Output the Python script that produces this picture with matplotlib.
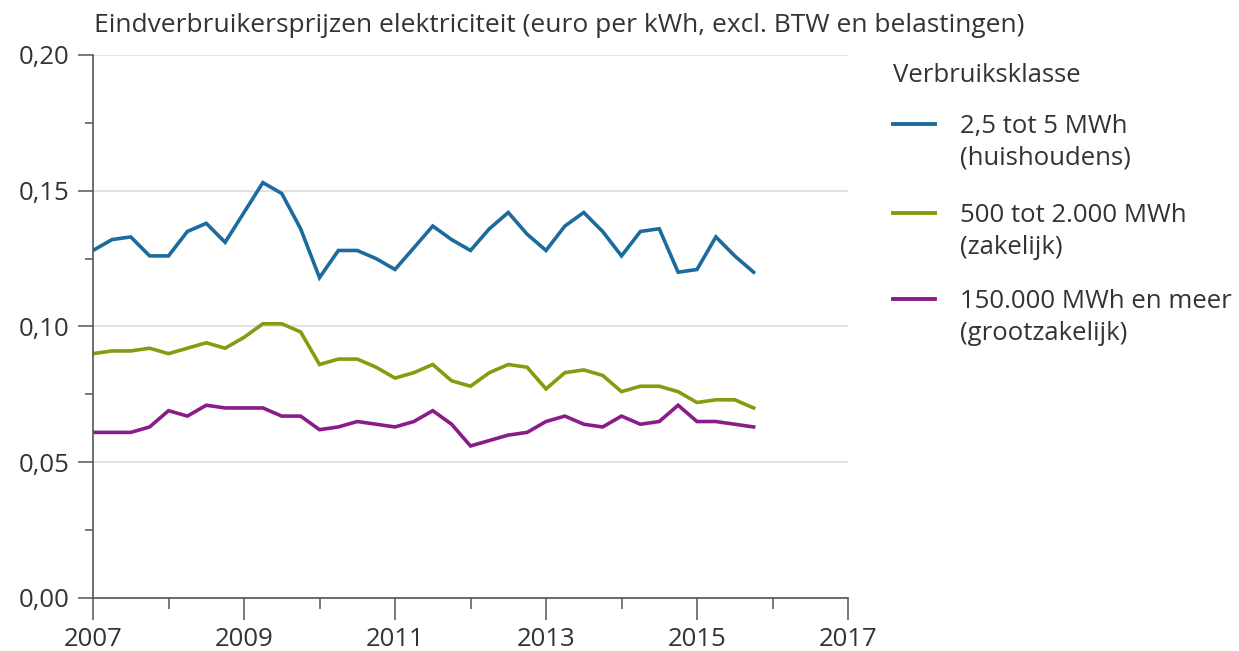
"""Eindverbruikersprijzen elektriciteit per verbruiksklasse, 2007-2015 (kwartalen)."""
import matplotlib
matplotlib.use("Agg")
import matplotlib.pyplot as plt
import numpy as np
from matplotlib.lines import Line2D
from matplotlib.ticker import FixedLocator, FuncFormatter, MultipleLocator

plt.rcParams["font.family"] = ["Open Sans", "DejaVu Sans"]

# quarterly series, 2007 Q1 .. 2015 Q4
years = np.arange(2007, 2016)
quarters = [0.0, 0.25, 0.5, 0.75]

huishoudens = [0.128, 0.132, 0.133, 0.126, 0.126, 0.135, 0.138, 0.131,
               0.142, 0.153, 0.149, 0.136, 0.118, 0.128, 0.128, 0.125,
               0.121, 0.129, 0.137, 0.132, 0.128, 0.136, 0.142, 0.134,
               0.128, 0.137, 0.142, 0.135, 0.126, 0.135, 0.136, 0.120,
               0.121, 0.133, 0.126, 0.120]
zakelijk = [0.090, 0.091, 0.091, 0.092, 0.090, 0.092, 0.094, 0.092,
            0.096, 0.101, 0.101, 0.098, 0.086, 0.088, 0.088, 0.085,
            0.081, 0.083, 0.086, 0.080, 0.078, 0.083, 0.086, 0.085,
            0.077, 0.083, 0.084, 0.082, 0.076, 0.078, 0.078, 0.076,
            0.072, 0.073, 0.073, 0.070]
grootzakelijk = [0.061, 0.061, 0.061, 0.063, 0.069, 0.067, 0.071, 0.070,
                 0.070, 0.070, 0.067, 0.067, 0.062, 0.063, 0.065, 0.064,
                 0.063, 0.065, 0.069, 0.064, 0.056, 0.058, 0.060, 0.061,
                 0.065, 0.067, 0.064, 0.063, 0.067, 0.064, 0.065, 0.071,
                 0.065, 0.065, 0.064, 0.063]

labels = ["2,5 tot 5 MWh\n(huishoudens)",
          "500 tot 2.000 MWh\n(zakelijk)",
          "150.000 MWh en meer\n(grootzakelijk)"]
colors = ["#1b6c9c", "#879b10", "#8a1c8a"]

t = np.array([y + q for y in years for q in quarters])
text_color = "#333333"
fs = 18.5

W, H = 1239, 651
fig = plt.figure(figsize=(W / 100, H / 100), dpi=100)
ax = fig.add_axes([93 / W, 53 / H, 755 / W, 543 / H])

for series, label, color in zip([huishoudens, zakelijk, grootzakelijk], labels, colors):
    ax.plot(t, series, color=color, lw=2.6, label=label, solid_joinstyle="miter")

ax.set_xlim(2007, 2017)
ax.set_ylim(0, 0.20)
ax.xaxis.set_major_locator(FixedLocator([2007, 2009, 2011, 2013, 2015, 2017]))
ax.xaxis.set_minor_locator(FixedLocator([2008, 2010, 2012, 2014, 2016]))
ax.yaxis.set_major_locator(MultipleLocator(0.05))
ax.yaxis.set_minor_locator(MultipleLocator(0.025))
ax.yaxis.set_major_formatter(FuncFormatter(lambda v, _: f"{v:.2f}".replace(".", ",")))

ax.grid(axis="y", which="major", color="#dddddd", lw=1.2)
ax.set_axisbelow(True)
for side in ["top", "right"]:
    ax.spines[side].set_visible(False)
for side in ["left", "bottom"]:
    ax.spines[side].set_color("#555555")
    ax.spines[side].set_linewidth(1.2)

ax.tick_params(axis="both", which="both", colors="#555555", labelcolor=text_color, labelsize=fs)
ax.tick_params(axis="y", which="major", length=11, width=1.1, pad=6)
ax.tick_params(axis="y", which="minor", length=6, width=1.1)
ax.tick_params(axis="x", which="major", length=16, width=1.1, pad=5)
ax.tick_params(axis="x", which="minor", length=8, width=1.1)

fig.text(94 / W, 1 - 26 / H,
         "Eindverbruikersprijzen elektriciteit (euro per kWh, excl. BTW en belastingen)",
         ha="left", va="center", fontsize=19, color=text_color)

# legend: handle sits level with the first line of each two-line label
fig.text(893 / W, 1 - 75 / H, "Verbruiksklasse", ha="left", va="center",
         fontsize=fs, color=text_color)
handle_y = [124, 213, 299]
for y, label, color in zip(handle_y, labels, colors):
    yf = 1 - y / H
    fig.add_artist(Line2D([893 / W, 935 / W], [yf, yf], color=color, lw=2.8,
                          transform=fig.transFigure))
    fig.text(960 / W, 1 - (y - 10) / H, label, ha="left", va="top",
             fontsize=fs, color=text_color, linespacing=1.35)

fig.savefig("out.png", dpi=100)
